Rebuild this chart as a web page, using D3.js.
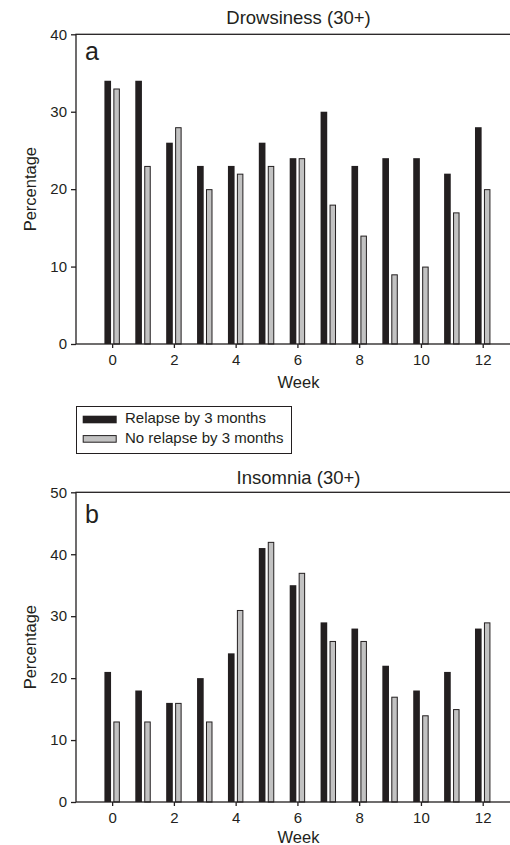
<!DOCTYPE html>
<html>
<head>
<meta charset="utf-8">
<script src="https://cdnjs.cloudflare.com/ajax/libs/d3/7.8.5/d3.min.js"></script>
<style>
    body { margin: 0; background: #fff; }
    svg { display: block; }
    text { font-family: "Liberation Sans", Arial, Helvetica, sans-serif; fill: #231f20; }
</style>
</head>
<body>
<svg id="chart" width="510" height="845"></svg>
<script>
// values
const weeks = [0, 1, 2, 3, 4, 5, 6, 7, 8, 9, 10, 11, 12]
const drowsinessRelapse = [34, 34, 26, 23, 23, 26, 24, 30, 23, 24, 24, 22, 28]
const drowsinessNoRelapse = [33, 23, 28, 20, 22, 23, 24, 18, 14, 9, 10, 17, 20]
const insomniaRelapse = [21, 18, 16, 20, 24, 41, 35, 29, 28, 22, 18, 21, 28]
const insomniaNoRelapse = [13, 13, 16, 13, 31, 42, 37, 26, 26, 17, 14, 15, 29]
const weekTicks = [0, 2, 4, 6, 8, 10, 12]
const drowsinessTicks = [0, 10, 20, 30, 40]
const insomniaTicks = [0, 10, 20, 30, 40, 50]
const seriesNames = ["Relapse by 3 months", "No relapse by 3 months"]

const ink = "#231f20"
const grey = "#c2c2c2"

const svg = d3.select("#chart")

function drawPanel(opt) {
    const x = d3.scaleLinear()
        .domain([-1.17, 13.24])
        .range([76, 521])
    const y = d3.scaleLinear()
        .domain([0, opt.yMax])
        .range([opt.bottom, opt.top])

    const g = svg.append("g")

    // bars: relapse (black) left of the week, no relapse (grey) right
    const rows = weeks.map((w, i) => ({week: w, a: opt.relapse[i], b: opt.noRelapse[i]}))

    g.selectAll(".barA")
        .data(rows)
        .enter()
        .append("rect")
        .attr("x", d => x(d.week - 0.25))
        .attr("width", d => x(d.week - 0.035) - x(d.week - 0.25))
        .attr("y", d => y(d.a))
        .attr("height", d => y(0) - y(d.a))
        .attr("fill", ink)

    g.selectAll(".barB")
        .data(rows)
        .enter()
        .append("rect")
        .attr("x", d => x(d.week + 0.04) + 0.5)
        .attr("width", d => x(d.week + 0.25) - x(d.week + 0.04) - 1)
        .attr("y", d => y(d.b) + 0.5)
        .attr("height", d => y(0) - y(d.b) - 0.5)
        .attr("fill", grey)
        .attr("stroke", ink)
        .attr("stroke-width", 1)

    // frame
    g.append("rect")
        .attr("x", x.range()[0])
        .attr("y", opt.top)
        .attr("width", x.range()[1] - x.range()[0])
        .attr("height", opt.bottom - opt.top)
        .attr("fill", "none")
        .attr("stroke", ink)
        .attr("stroke-width", 1.3)

    const xAxis = g.append("g")
        .attr("transform", `translate(0,${opt.bottom})`)
        .call(d3.axisBottom(x).tickValues(weekTicks).tickSize(4).tickSizeOuter(0).tickPadding(6))
    const yAxis = g.append("g")
        .attr("transform", `translate(${x.range()[0]},0)`)
        .call(d3.axisLeft(y).tickValues(opt.yTicks).tickSize(5).tickSizeOuter(0).tickPadding(4))

    for (const ax of [xAxis, yAxis]) {
        ax.select(".domain").remove()
        ax.selectAll("line").attr("stroke", ink).attr("stroke-width", 1.3)
        ax.selectAll("text")
            .attr("fill", ink)
            .style("font-size", "15px")
            .style("font-family", '"Liberation Sans", Arial, sans-serif')
    }

    g.append("text")
        .attr("x", 298.5)
        .attr("y", opt.titleY)
        .attr("text-anchor", "middle")
        .style("font-size", "18.5px")
        .text(opt.title)

    g.append("text")
        .attr("x", 85)
        .attr("y", opt.letterY)
        .style("font-size", "25px")
        .text(opt.letter)

    g.append("text")
        .attr("x", 298.5)
        .attr("y", opt.weekY)
        .attr("text-anchor", "middle")
        .style("font-size", "16.5px")
        .text("Week")

    g.append("text")
        .attr("transform", `translate(35.5,${(opt.top + opt.bottom) / 2}) rotate(-90)`)
        .attr("text-anchor", "middle")
        .style("font-size", "16.5px")
        .text("Percentage")
}

drawPanel({
    top: 34.3, bottom: 344, yMax: 40, yTicks: drowsinessTicks,
    relapse: drowsinessRelapse, noRelapse: drowsinessNoRelapse,
    title: "Drowsiness (30+)", titleY: 23.5, letter: "a", letterY: 60, weekY: 388.3
})

drawPanel({
    top: 492.3, bottom: 802, yMax: 50, yTicks: insomniaTicks,
    relapse: insomniaRelapse, noRelapse: insomniaNoRelapse,
    title: "Insomnia (30+)", titleY: 484, letter: "b", letterY: 523, weekY: 843
})

// legend between the panels
const legend = svg.append("g")
legend.append("rect")
    .attr("x", 76.5).attr("y", 406.5)
    .attr("width", 215).attr("height", 47)
    .attr("fill", "none")
    .attr("stroke", ink)
    .attr("stroke-width", 1)

const legendItems = legend.selectAll(".item")
    .data(seriesNames)
    .enter()
    .append("g")
    .attr("transform", (d, i) => `translate(0,${i * 19.4})`)

legendItems.append("rect")
    .attr("x", (d, i) => i ? 83.2 : 82.7)
    .attr("y", (d, i) => i ? 415.7 + 0.5 : 415.7)
    .attr("width", (d, i) => i ? 33 : 34)
    .attr("height", (d, i) => i ? 6.6 : 7.6)
    .attr("fill", (d, i) => i ? grey : ink)
    .attr("stroke", (d, i) => i ? ink : "none")
    .attr("stroke-width", 1)

legendItems.append("text")
    .attr("x", 125)
    .attr("y", 423.3)
    .style("font-size", "15px")
    .text(d => d)
</script>
</body>
</html>
